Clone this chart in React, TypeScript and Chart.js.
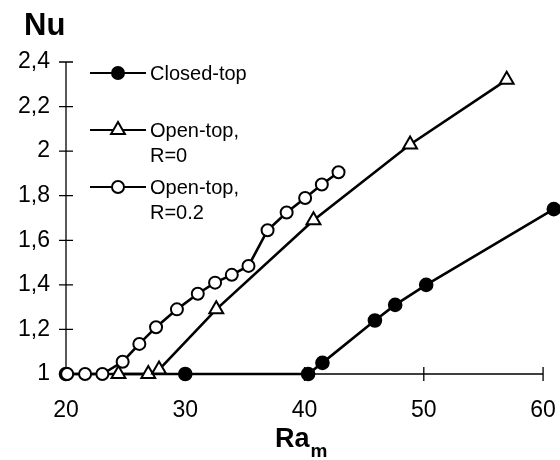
import React, { useEffect, useRef } from "react";
import { Chart, registerables } from "chart.js";

Chart.register(...registerables);

const closedX = [20, 30, 40.3, 41.5, 45.9, 47.6, 50.2, 60.9];
const closedY = [1, 1, 1, 1.05, 1.24, 1.31, 1.4, 1.74];

const openR0X = [24.4, 26.9, 27.8, 32.6, 40.75, 48.85, 56.95];
const openR0Y = [1, 1, 1.02, 1.29, 1.69, 2.03, 2.32];

const openR02X = [20.1, 21.6, 23.05, 24.75, 26.15, 27.55, 29.3, 31.05, 32.5, 33.9, 35.3, 36.9, 38.5, 40.05, 41.45, 42.85];
const openR02Y = [1, 1, 1, 1.055, 1.135, 1.21, 1.29, 1.36, 1.41, 1.445, 1.485, 1.645, 1.725, 1.79, 1.85, 1.905];

const xTicks = [20, 30, 40, 50, 60];
const yTicks = [1, 1.2, 1.4, 1.6, 1.8, 2, 2.2, 2.4];

const legendLabels = [["Closed-top"], ["Open-top,", "R=0"], ["Open-top,", "R=0.2"]];

const FONT = "'Liberation Sans', Arial, sans-serif";

const toPts = (xs: number[], ys: number[]) => xs.map((x, i) => ({ x, y: ys[i] }));
const fmt = (v: number) => String(Math.round(v * 10) / 10).replace(".", ",");

function drawMarker(ctx: CanvasRenderingContext2D, kind: number, x: number, y: number) {
  ctx.save();
  ctx.lineWidth = 2;
  ctx.strokeStyle = "#000";
  ctx.beginPath();
  if (kind === 1) {
    const r = 8;
    for (let k = 0; k < 3; k++) {
      const a = (k * 2 * Math.PI) / 3;
      const px = x + Math.sin(a) * r;
      const py = y - Math.cos(a) * r;
      if (k === 0) ctx.moveTo(px, py);
      else ctx.lineTo(px, py);
    }
    ctx.closePath();
    ctx.fillStyle = "#fff";
  } else {
    ctx.arc(x, y, 6, 0, Math.PI * 2);
    ctx.fillStyle = kind === 0 ? "#000" : "#fff";
  }
  ctx.fill();
  ctx.stroke();
  ctx.restore();
}

const decorPlugin = {
  id: "decor",
  beforeDatasetsDraw(chart: any) {
    const ctx = chart.ctx as CanvasRenderingContext2D;
    const xs = chart.scales.x;
    const ys = chart.scales.y;
    const { left, top, bottom } = chart.chartArea;
    const axisRight = xs.getPixelForValue(xTicks[xTicks.length - 1]);
    ctx.save();
    ctx.strokeStyle = "#000";
    ctx.lineWidth = 1.3;
    ctx.beginPath();
    ctx.moveTo(left, top);
    ctx.lineTo(left, bottom);
    ctx.lineTo(axisRight, bottom);
    ctx.stroke();
    ctx.beginPath();
    xTicks.forEach((v) => {
      const px = xs.getPixelForValue(v);
      ctx.moveTo(px, bottom - 7);
      ctx.lineTo(px, bottom + 7);
    });
    yTicks.forEach((v) => {
      const py = ys.getPixelForValue(v);
      ctx.moveTo(left - 7, py);
      ctx.lineTo(left + 7, py);
    });
    ctx.stroke();
    ctx.restore();
  },
  afterDraw(chart: any) {
    const ctx = chart.ctx as CanvasRenderingContext2D;
    ctx.save();
    ctx.fillStyle = "#000";
    ctx.textBaseline = "middle";
    ctx.textAlign = "left";
    // axis titles
    ctx.font = `bold 31px ${FONT}`;
    ctx.fillText("Nu", 24, 26);
    ctx.font = `bold 27px ${FONT}`;
    const raW = ctx.measureText("Ra").width;
    ctx.fillText("Ra", 275, 440);
    ctx.font = `bold 19px ${FONT}`;
    ctx.fillText("m", 275 + raW + 1, 452);
    // legend
    const rows = [73, 130, 187];
    ctx.font = `20px ${FONT}`;
    rows.forEach((ly, i) => {
      ctx.save();
      ctx.strokeStyle = "#000";
      ctx.lineWidth = 2.2;
      ctx.beginPath();
      ctx.moveTo(90, ly);
      ctx.lineTo(146, ly);
      ctx.stroke();
      ctx.restore();
      drawMarker(ctx, i, 118, ly);
      legendLabels[i].forEach((t, j) => {
        ctx.fillText(t, 150, ly + 1 + j * 25.5);
      });
    });
    ctx.restore();
  },
};

export default function App() {
  const ref = useRef<HTMLCanvasElement | null>(null);
  useEffect(() => {
    if (!ref.current) return;
    const common = {
      borderColor: "#000",
      borderWidth: 2.6,
      pointBorderColor: "#000",
      pointBorderWidth: 2,
      showLine: true,
      clip: false as any,
      tension: 0,
    };
    const chart = new Chart(ref.current, {
      type: "scatter",
      data: {
        datasets: [
          {
            ...common,
            label: "Open-top, R=0.2",
            data: toPts(openR02X, openR02Y),
            pointStyle: "circle",
            pointRadius: 6,
            pointBackgroundColor: "#fff",
            order: 0,
          },
          {
            ...common,
            label: "Open-top, R=0",
            data: toPts(openR0X, openR0Y),
            pointStyle: "triangle",
            pointRadius: 8,
            pointBackgroundColor: "#fff",
            order: 1,
          },
          {
            ...common,
            label: "Closed-top",
            data: toPts(closedX, closedY),
            pointStyle: "circle",
            pointRadius: 6.3,
            pointBackgroundColor: "#000",
            order: 2,
          },
        ],
      },
      options: {
        responsive: false,
        animation: false,
        layout: { autoPadding: false, padding: { top: 62, right: 5, bottom: 0, left: 0 } },
        plugins: { legend: { display: false }, tooltip: { enabled: false } },
        scales: {
          x: {
            type: "linear",
            min: 20,
            max: 61,
            afterFit: (s: any) => {
              s.height = 86;
              s.paddingRight = 0;
              s.paddingLeft = 0;
            },
            afterBuildTicks: (s: any) => {
              s.ticks = xTicks.map((v) => ({ value: v }));
            },
            grid: { display: false, drawTicks: false },
            border: { display: false },
            ticks: {
              padding: 23,
              color: "#000",
              font: { family: FONT, size: 23 },
              maxRotation: 0,
            },
          },
          y: {
            type: "linear",
            min: 1,
            max: 2.4,
            afterFit: (s: any) => {
              s.width = 66;
              s.paddingTop = 0;
              s.paddingBottom = 0;
            },
            afterBuildTicks: (s: any) => {
              s.ticks = yTicks.map((v) => ({ value: v }));
            },
            grid: { display: false, drawTicks: false },
            border: { display: false },
            ticks: {
              padding: 16,
              color: "#000",
              font: { family: FONT, size: 23 },
              callback: (v: any) => fmt(Number(v)),
            },
          },
        },
      },
      plugins: [decorPlugin],
    });
    return () => chart.destroy();
  }, []);
  return (
    <div style={{ position: "absolute", left: 0, top: 0, width: 560, height: 460, background: "#fff" }}>
      <canvas ref={ref} width={560} height={460} />
    </div>
  );
}
